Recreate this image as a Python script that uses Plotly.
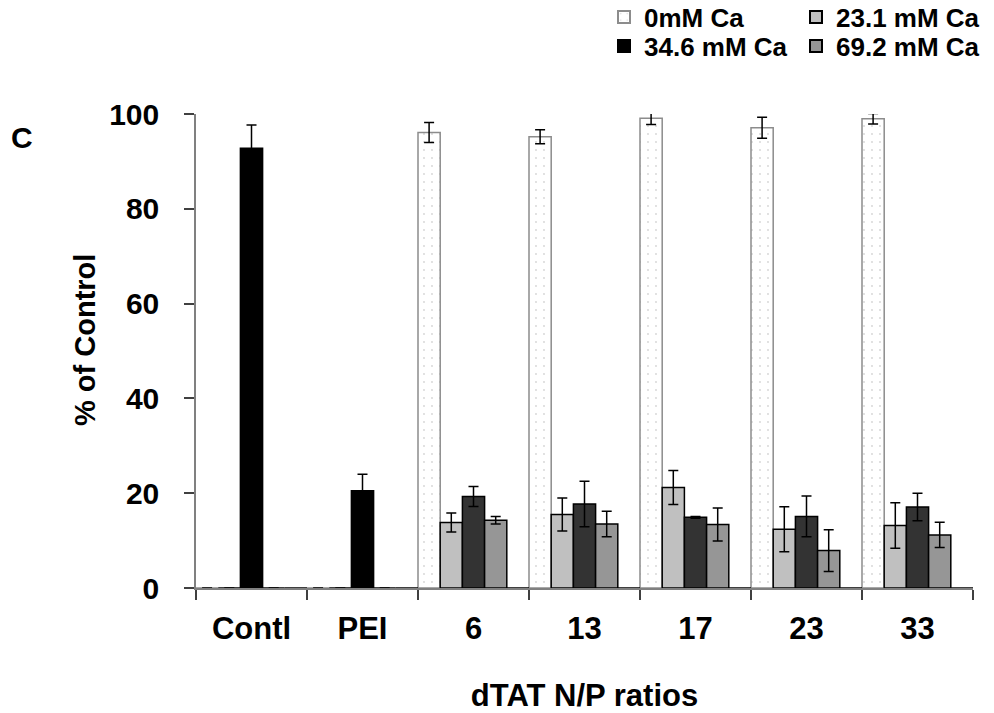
import plotly.graph_objects as go

categories = ["Contl", "PEI", "6", "13", "17", "23", "33"]

ca0_values = [0, 0, 96.1, 95.2, 99.1, 97.1, 99.0]
ca0_errors = [0, 0, 2.1, 1.5, 1.3, 2.2, 1.1]

ca231_values = [0, 0, 13.8, 15.5, 21.2, 12.4, 13.2]
ca231_errors = [0, 0, 2.0, 3.5, 3.6, 4.75, 4.8]

# Contl / PEI bars are drawn in black in this series slot
ca346_values = [92.8, 20.5, 19.3, 17.7, 14.9, 15.1, 17.1]
ca346_errors = [4.9, 3.5, 2.1, 4.8, 0.2, 4.3, 2.9]

ca692_values = [0, 0, 14.3, 13.5, 13.4, 7.9, 11.2]
ca692_errors = [0, 0, 0.8, 2.7, 3.5, 4.4, 2.65]

extra_values = [0, 0, 0, 0, 0, 0, 0]

y_ticks = [0, 20, 40, 60, 80, 100]

FONT = "Liberation Sans, Arial, sans-serif"

fig = go.Figure()

err_style = dict(type="data", visible=True, color="black", thickness=1.5, width=5)

fig.add_trace(go.Bar(
    x=categories, y=ca0_values, name="<b>0mM Ca</b>",
    error_y=dict(array=ca0_errors, **err_style),
    marker=dict(color="white", line=dict(color="#8c8c8c", width=1.5),
                pattern=dict(shape=".", fgcolor="#a8a8a8", bgcolor="white",
                             size=8, solidity=0.04)),
    offset=-0.5, width=0.2, legend="legend", cliponaxis=False,
))
fig.add_trace(go.Bar(
    x=categories, y=ca231_values, name="<b>23.1 mM Ca</b>",
    error_y=dict(array=ca231_errors, **err_style),
    marker=dict(color="#c0c0c0", line=dict(color="black", width=1.5)),
    offset=-0.3, width=0.2, legend="legend2", cliponaxis=False,
))
fig.add_trace(go.Bar(
    x=categories, y=ca346_values, name="<b>34.6 mM Ca</b>",
    error_y=dict(array=ca346_errors, **err_style),
    marker=dict(color=["black", "black"] + ["#333333"] * 5,
                line=dict(color="black", width=1.5)),
    offset=-0.1, width=0.2, legend="legend3", cliponaxis=False,
))
fig.add_trace(go.Bar(
    x=categories, y=ca692_values, name="<b>69.2 mM Ca</b>",
    error_y=dict(array=ca692_errors, **err_style),
    marker=dict(color="#969696", line=dict(color="black", width=1.5)),
    offset=0.1, width=0.2, legend="legend4", cliponaxis=False,
))
fig.add_trace(go.Bar(
    x=categories, y=extra_values, name="",
    marker=dict(color="black", line=dict(color="black", width=1.5)),
    offset=0.3, width=0.2, showlegend=False, cliponaxis=False,
))

W, H = 994, 713

legend_common = dict(
    font=dict(family=FONT, size=26, color="black"),
    bgcolor="rgba(0,0,0,0)", orientation="v",
    xref="container", yref="container", xanchor="left", yanchor="middle",
    itemsizing="constant",
)
row1 = 1 - 17 / H
row2 = 1 - 46 / H
col1 = 604 / W
col2 = 796 / W

fig.update_layout(
    width=W, height=H,
    margin=dict(l=196, r=21, t=114, b=125, autoexpand=False),
    paper_bgcolor="white", plot_bgcolor="white",
    barmode="overlay",
    font=dict(family=FONT, color="black"),
    legend=dict(x=col1, y=row1, **legend_common),
    legend2=dict(x=col2, y=row1, **legend_common),
    legend3=dict(x=col1, y=row2, **legend_common),
    legend4=dict(x=col2, y=row2, **legend_common),
    xaxis=dict(
        type="category", categoryorder="array", categoryarray=categories,
        tickmode="array", tickvals=categories,
        ticktext=["<b>%s</b>" % c for c in categories],
        tickson="boundaries", ticks="outside", ticklen=10, tickwidth=1.5,
        tickcolor="#404040", tickangle=0,
        showline=True, linecolor="#808080", linewidth=1.5,
        showgrid=False, zeroline=False,
        tickfont=dict(family=FONT, size=31, color="black"),
        ticklabelstandoff=12,
        title=dict(text="<b>dTAT N/P ratios</b>",
                   font=dict(family=FONT, size=31, color="black"), standoff=41),
    ),
    yaxis=dict(
        range=[0, 100], tickmode="array", tickvals=y_ticks,
        ticktext=["<b>%d</b>" % v for v in y_ticks],
        ticks="outside", ticklen=10, tickwidth=1.5, tickcolor="#404040",
        showline=True, linecolor="#808080", linewidth=1.5,
        showgrid=False, zeroline=False,
        tickfont=dict(family=FONT, size=30, color="black"),
        ticklabelstandoff=19,
    ),
    annotations=[
        dict(text="<b>% of Control</b>", textangle=-90, xref="paper", yref="paper",
             x=-0.143, y=0.523, xanchor="center", yanchor="middle", showarrow=False,
             font=dict(family=FONT, size=29, color="black")),
        dict(text="<b>C</b>", xref="paper", yref="paper",
             x=-0.224, y=0.95, xanchor="center", yanchor="middle", showarrow=False,
             font=dict(family=FONT, size=30, color="black")),
    ],
)

fig.write_html("out.html",
               config={"displayModeBar": False},
               post_script="document.body.style.margin='0px';document.body.style.overflow='hidden';")
